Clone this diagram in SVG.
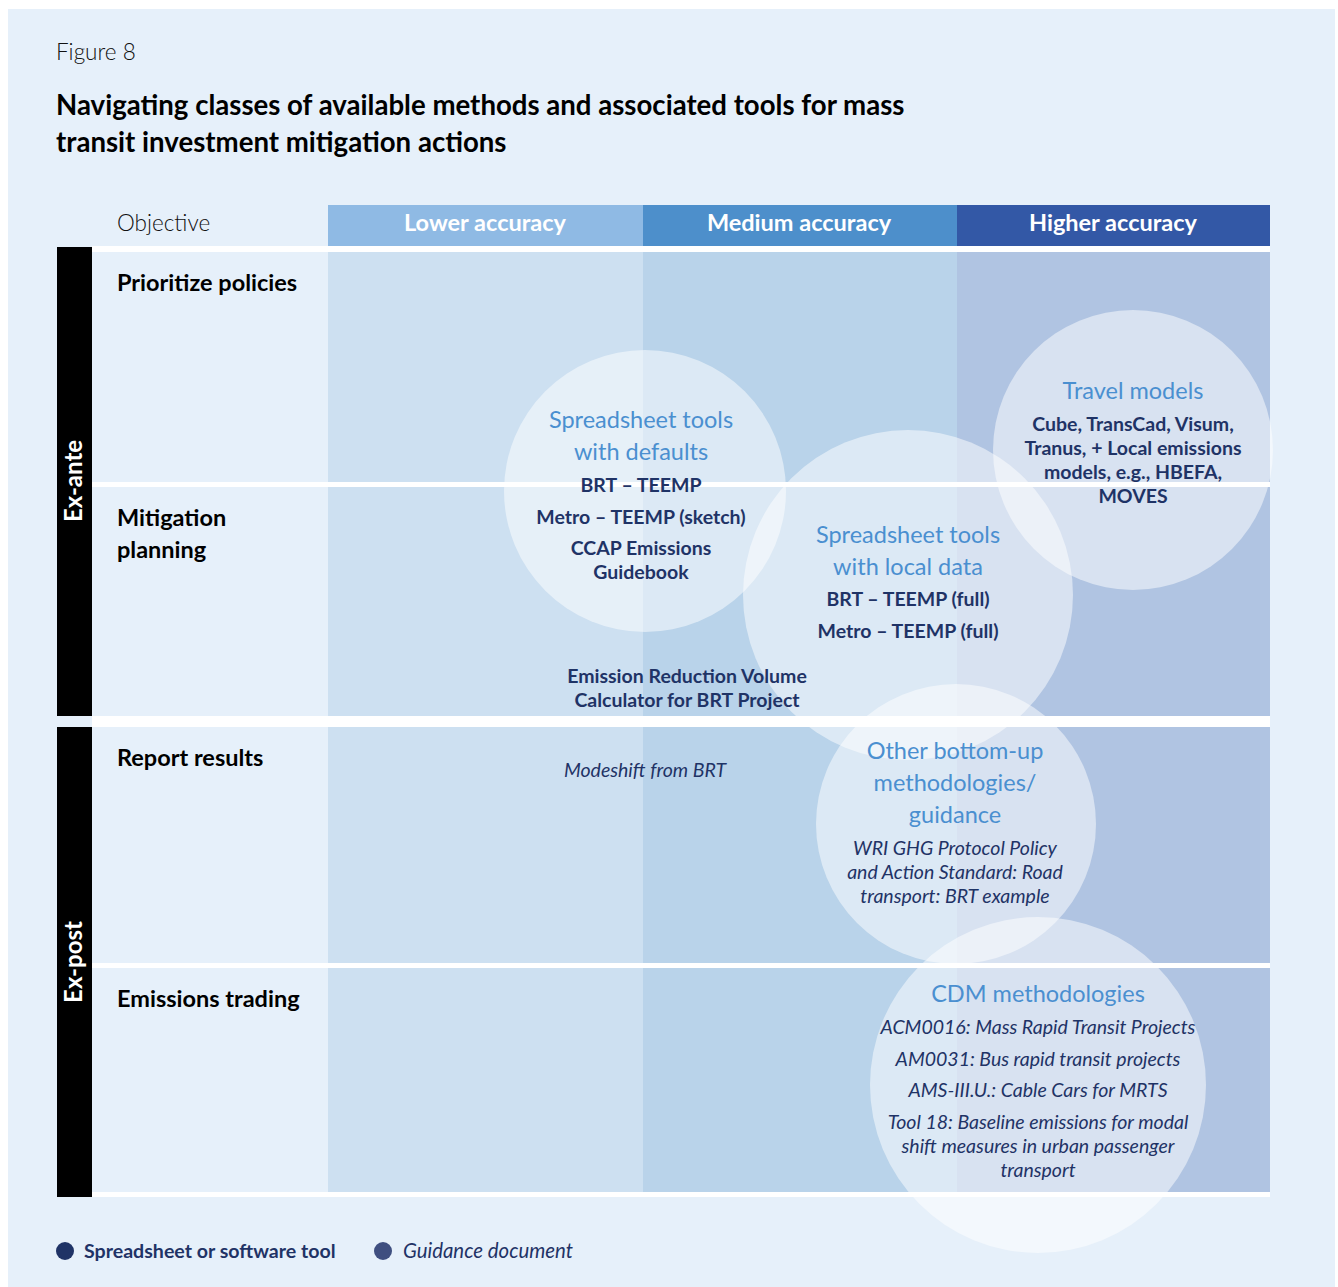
<svg xmlns="http://www.w3.org/2000/svg" width="1338" height="1287" viewBox="0 0 1338 1287">
<style>
text{font-family:Lato,"Noto Sans","Liberation Sans",sans-serif}
.hd{fill:#fff;font-weight:700;font-size:23.5px;text-anchor:middle}
.rl{fill:#000;font-weight:700;font-size:23.5px}
.ct{fill:#4a8fd0;font-size:23.5px;text-anchor:middle}
.cb{fill:#1f3366;font-weight:700;font-size:19.5px;text-anchor:middle}
.ci{fill:#1f3366;font-style:italic;font-size:19.5px;text-anchor:middle}
.circ{fill:#fff;fill-opacity:0.5}
</style>
<rect x="0" y="0" width="1338" height="1287" fill="#fff"/>
<rect x="8" y="9" width="1327" height="1278" fill="#e6f0fa"/>
<text x="56" y="60" font-size="22.5" font-weight="300" fill="#111">Figure 8</text>
<text x="56" y="115" font-size="27.6" font-weight="700" fill="#000">Navigating classes of available methods and associated tools for mass</text>
<text x="56" y="152" font-size="27.6" font-weight="700" fill="#000">transit investment mitigation actions</text>
<g id="header">
<text x="117" y="231" font-size="22.5" font-weight="300" fill="#111">Objective</text>
<rect x="328" y="205" width="315" height="41" fill="#8fbae4"/>
<rect x="643" y="205" width="314" height="41" fill="#4d8fcb"/>
<rect x="957" y="205" width="313" height="41" fill="#3358a6"/>
<text class="hd" x="485" y="231">Lower accuracy</text>
<text class="hd" x="799" y="231">Medium accuracy</text>
<text class="hd" x="1113" y="231">Higher accuracy</text>
</g>
<g id="grid">
<rect x="92" y="246" width="1178" height="951" fill="#fff"/>
<rect x="92" y="252" width="236" height="230" fill="#e6f0fa"/>
<rect x="92" y="487" width="236" height="229" fill="#e6f0fa"/>
<rect x="92" y="727" width="236" height="236" fill="#e6f0fa"/>
<rect x="92" y="968" width="236" height="224" fill="#e6f0fa"/>
<g fill="#cde0f1">
<rect x="328" y="252" width="315" height="230"/><rect x="328" y="487" width="315" height="229"/><rect x="328" y="727" width="315" height="236"/><rect x="328" y="968" width="315" height="224"/>
</g>
<g fill="#b9d3ea">
<rect x="643" y="252" width="314" height="230"/><rect x="643" y="487" width="314" height="229"/><rect x="643" y="727" width="314" height="236"/><rect x="643" y="968" width="314" height="224"/>
</g>
<g fill="#b0c4e2">
<rect x="957" y="252" width="313" height="230"/><rect x="957" y="487" width="313" height="229"/><rect x="957" y="727" width="313" height="236"/><rect x="957" y="968" width="313" height="224"/>
</g>
</g>
<g id="phases">
<rect x="57" y="247" width="35" height="469" fill="#000"/>
<rect x="57" y="727" width="35" height="470" fill="#000"/>
<text x="82" y="481" fill="#fff" font-size="24" font-weight="700" text-anchor="middle" transform="rotate(-90 82 481)">Ex-ante</text>
<text x="82" y="962" fill="#fff" font-size="24" font-weight="700" text-anchor="middle" transform="rotate(-90 82 962)">Ex-post</text>
</g>
<g id="rows">
<text class="rl" x="117" y="291">Prioritize policies</text>
<text class="rl" x="117" y="526">Mitigation</text>
<text class="rl" x="117" y="558">planning</text>
<text class="rl" x="117" y="766">Report results</text>
<text class="rl" x="117" y="1007">Emissions trading</text>
</g>
<g id="circle-defaults">
<circle class="circ" cx="645" cy="491" r="141"/>
</g>
<g id="circle-local">
<circle class="circ" cx="908" cy="595" r="165"/>
</g>
<g id="circle-travel">
<circle class="circ" cx="1133" cy="450" r="140"/>
</g>
<g id="circle-bottomup">
<circle class="circ" cx="956" cy="824" r="140"/>
</g>
<g id="circle-cdm">
<circle class="circ" cx="1038" cy="1085" r="168"/>
</g>
<g id="labels">
<text class="ct" x="641" y="428">Spreadsheet tools</text>
<text class="ct" x="641" y="460">with defaults</text>
<text class="cb" x="641" y="492">BRT – TEEMP</text>
<text class="cb" x="641" y="524">Metro – TEEMP (sketch)</text>
<text class="cb" x="641" y="555">CCAP Emissions</text>
<text class="cb" x="641" y="579">Guidebook</text>
<text class="ct" x="908" y="543">Spreadsheet tools</text>
<text class="ct" x="908" y="575">with local data</text>
<text class="cb" x="908" y="606">BRT – TEEMP (full)</text>
<text class="cb" x="908" y="638">Metro – TEEMP (full)</text>
<text class="cb" x="687" y="683">Emission Reduction Volume</text>
<text class="cb" x="687" y="707">Calculator for BRT Project</text>
<text class="ct" x="1133" y="399">Travel models</text>
<text class="cb" x="1133" y="431">Cube, TransCad, Visum,</text>
<text class="cb" x="1133" y="455">Tranus, + Local emissions</text>
<text class="cb" x="1133" y="479">models, e.g., HBEFA,</text>
<text class="cb" x="1133" y="503">MOVES</text>
<text class="ci" x="645" y="777" font-size="20.5">Modeshift from BRT</text>
<text class="ct" x="955" y="759">Other bottom-up</text>
<text class="ct" x="955" y="791">methodologies/</text>
<text class="ct" x="955" y="823">guidance</text>
<text class="ci" x="955" y="855">WRI GHG Protocol Policy</text>
<text class="ci" x="955" y="879">and Action Standard: Road</text>
<text class="ci" x="955" y="903">transport: BRT example</text>
<text class="ct" x="1038" y="1002">CDM methodologies</text>
<text class="ci" x="1038" y="1034">ACM0016: Mass Rapid Transit Projects</text>
<text class="ci" x="1038" y="1066">AM0031: Bus rapid transit projects</text>
<text class="ci" x="1038" y="1097">AMS-III.U.: Cable Cars for MRTS</text>
<text class="ci" x="1038" y="1129">Tool 18: Baseline emissions for modal</text>
<text class="ci" x="1038" y="1153">shift measures in urban passenger</text>
<text class="ci" x="1038" y="1177">transport</text>
</g>
<g id="legend">
<circle cx="65" cy="1251" r="9" fill="#1f3366"/>
<text x="84" y="1258" font-size="19.6" font-weight="700" fill="#1f3366">Spreadsheet or software tool</text>
<circle cx="383" cy="1251" r="9" fill="#3f4f80"/>
<text x="403" y="1258" font-size="20.4" font-style="italic" fill="#1f3366">Guidance document</text>
</g>
</svg>
